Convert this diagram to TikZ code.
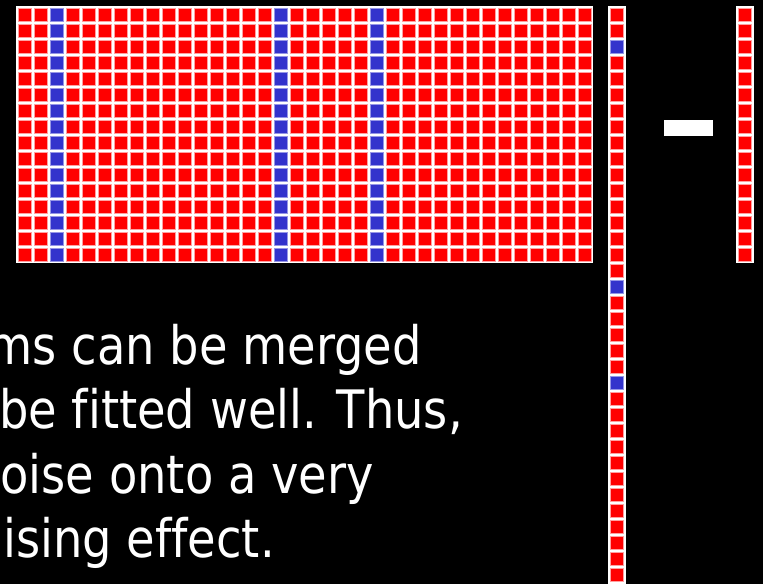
\documentclass[tikz,border=0pt]{standalone}
\usepackage{fontspec}
\setmainfont{DejaVu Sans}[FakeStretch=0.875, Ligatures=NoCommon]
\usepackage{xcolor}
\usepackage{tikz}
\usetikzlibrary{positioning}
\definecolor{cellred}{RGB}{255, 0, 0}
\definecolor{cellblue}{RGB}{51, 51, 204}
\definecolor{cellrim}{RGB}{255, 160, 160}
\definecolor{hotrim}{RGB}{150, 150, 230}

\begin{document}
\begin{tikzpicture}[x=1pt, y=-1pt,
    cell/.style={fill=cellred, draw=cellrim, line width=0.8pt},
    hot/.style={fill=cellblue, draw=hotrim, line width=0.8pt},
    txt/.style={white, anchor=base east, inner sep=0pt, font=\fontsize{53}{64}\selectfont}]
        \useasboundingbox (0, 0) rectangle (763, 584);
        \fill[black] (0, 0) rectangle (763, 584);
        \clip (0, 0) rectangle (763, 584);

        % Matrix
        \fill[white] (16, 6) rectangle (593, 263);
        \foreach \c in {0,...,35}
            \foreach \r in {0,...,15}
                \draw[cell] ({18+16*\c}, {8+16*\r}) rectangle ++(13, 13);
        \foreach \c in {2, 16, 22}
            \foreach \r in {0,...,15}
                \draw[hot] ({18+16*\c}, {8+16*\r}) rectangle ++(13, 13);

        % Long vector
        \fill[white] (608, 6) rectangle (626, 590);
        \foreach \r in {0,...,35}
            \draw[cell] (610, {8+16*\r}) rectangle ++(13, 13);
        \foreach \r in {2, 17, 23}
            \draw[hot] (610, {8+16*\r}) rectangle ++(13, 13);

        % Minus and short vector
        \fill[white] (664, 120) rectangle (713, 136);
        \fill[white] (736, 6) rectangle (754, 263);
        \foreach \r in {0,...,15}
            \draw[cell] (738.5, {8+16*\r}) rectangle ++(13, 13);

        \node[txt] (line1) at (422, 364) {ms can be merged};
        \node[txt] (line2) at (463, 428) {be fitted well. Thus,};
        \node[txt] (line3) at (374, 493) {oise onto a very};
        \node[txt] (line4) at (275, 557) {oising effect.};
\end{tikzpicture}
\end{document}
